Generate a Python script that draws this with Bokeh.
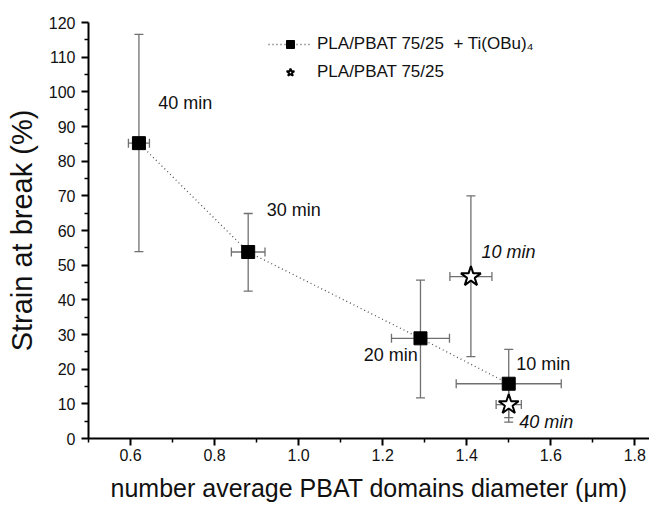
from bokeh.plotting import figure
from bokeh.models import (Range1d, FixedTicker, PrintfTickFormatter, Whisker, TeeHead,
                          ColumnDataSource, Label, Legend, LegendItem)
from bokeh.embed import file_html
from bokeh.resources import INLINE

# ---- data ----
ti_x = [0.62, 0.88, 1.29, 1.50]
ti_y = [85.2, 53.8, 28.9, 15.8]
ti_xerr = [0.025, 0.04, 0.069, 0.125]
ti_ylow = [53.9, 42.5, 11.7, 6.0]
ti_yhigh = [116.6, 64.9, 45.7, 25.7]
ti_labels = ["40 min", "30 min", "20 min", "10 min"]
ti_label_x = [0.666, 0.924, 1.155, 1.518]
ti_label_y = [96.7, 65.9, 24.2, 21.5]

ref_x = [1.41, 1.50]
ref_y = [46.7, 9.8]
ref_xerr = [0.05, 0.03]
ref_ylow = [23.6, 4.7]
ref_yhigh = [70.0, 14.9]
ref_labels = ["10 min", "40 min"]
ref_label_x = [1.435, 1.525]
ref_label_y = [53.7, 4.7]

x_ticks = [0.6, 0.8, 1.0, 1.2, 1.4, 1.6, 1.8]
x_minor = [0.5, 0.7, 0.9, 1.1, 1.3, 1.5, 1.7]
y_ticks = list(range(0, 121, 10))
y_minor = list(range(5, 120, 10))

legend_ti = "PLA/PBAT 75/25  + Ti(OBu)\u2084"
legend_ref = "PLA/PBAT 75/25"

FONT = "Liberation Sans"
ERR = "#707070"

p = figure(width=649, height=507, output_backend="svg", toolbar_location=None,
           x_range=Range1d(0.5, 1.835), y_range=Range1d(0, 120),
           min_border_left=88, min_border_right=0, min_border_top=22, min_border_bottom=69)
p.outline_line_color = None
p.xgrid.visible = False
p.ygrid.visible = False
p.background_fill_color = "white"
p.border_fill_color = "white"

for ax in (p.xaxis[0], p.yaxis[0]):
    ax.axis_line_width = 2
    ax.axis_line_color = "black"
    ax.major_tick_line_width = 2
    ax.minor_tick_line_width = 1.5
    ax.major_tick_out = 7
    ax.major_tick_in = 0
    ax.minor_tick_out = 4
    ax.minor_tick_in = 0
    ax.major_label_text_font = FONT
    ax.major_label_text_font_size = "16px"
    ax.major_label_text_color = "#111111"
    ax.axis_label_text_font = FONT
    ax.axis_label_text_font_style = "normal"
    ax.axis_label_text_color = "#111111"

p.xaxis.ticker = FixedTicker(ticks=x_ticks, minor_ticks=x_minor)
p.yaxis.ticker = FixedTicker(ticks=y_ticks, minor_ticks=y_minor)
p.xaxis.formatter = PrintfTickFormatter(format="%.1f")
p.yaxis.formatter = PrintfTickFormatter(format="%d")
p.xaxis.major_label_standoff = 3
p.yaxis.major_label_standoff = 6
p.xaxis.axis_label = "number average PBAT domains diameter (\u03bcm)"
p.yaxis.axis_label = "Strain at break (%)"
p.xaxis.axis_label_text_font_size = "25px"
p.yaxis.axis_label_text_font_size = "29px"
p.xaxis.axis_label_standoff = 10
p.yaxis.axis_label_standoff = 8

ti_src = ColumnDataSource(dict(
    x=ti_x, y=ti_y, ylow=ti_ylow, yhigh=ti_yhigh,
    xlow=[a - e for a, e in zip(ti_x, ti_xerr)],
    xhigh=[a + e for a, e in zip(ti_x, ti_xerr)]))
ref_src = ColumnDataSource(dict(
    x=ref_x, y=ref_y, ylow=ref_ylow, yhigh=ref_yhigh,
    xlow=[a - e for a, e in zip(ref_x, ref_xerr)],
    xhigh=[a + e for a, e in zip(ref_x, ref_xerr)]))


def head():
    return TeeHead(size=9, line_color=ERR, line_width=1.3)


for src in (ti_src, ref_src):
    p.add_layout(Whisker(source=src, base="x", lower="ylow", upper="yhigh", dimension="height",
                         line_color=ERR, line_width=1.3, upper_head=head(), lower_head=head(),
                         level="underlay"))
    p.add_layout(Whisker(source=src, base="y", lower="xlow", upper="xhigh", dimension="width",
                         line_color=ERR, line_width=1.3, upper_head=head(), lower_head=head(),
                         level="underlay"))

line_r = p.line("x", "y", source=ti_src, line_color="#555555", line_width=1.3, line_dash="1 3")
sq_r = p.scatter("x", "y", source=ti_src, marker="square", size=13,
                 fill_color="black", line_color="black")
star_r = p.scatter("x", "y", source=ref_src, marker="star", size=21,
                   fill_color="white", line_color="black", line_width=2)

for t, x, y in zip(ti_labels, ti_label_x, ti_label_y):
    p.add_layout(Label(x=x, y=y, text=t, text_font=FONT, text_font_size="18px",
                       text_baseline="middle", text_align="left", text_color="#111111"))
for t, x, y in zip(ref_labels, ref_label_x, ref_label_y):
    p.add_layout(Label(x=x, y=y, text=t, text_font=FONT, text_font_size="18px",
                       text_font_style="italic",
                       text_baseline="middle", text_align="left", text_color="#111111"))

legend = Legend(items=[LegendItem(label=legend_ti, renderers=[line_r, sq_r]),
                       LegendItem(label=legend_ref, renderers=[star_r])],
                location=(180, 356), glyph_width=44, glyph_height=20, label_height=20,
                label_standoff=5, spacing=8, padding=0, margin=0,
                border_line_color=None, background_fill_alpha=0,
                label_text_font=FONT, label_text_font_size="17px", label_text_color="#111111")
p.add_layout(legend)

open("out.html", "w").write(file_html(p, INLINE))
